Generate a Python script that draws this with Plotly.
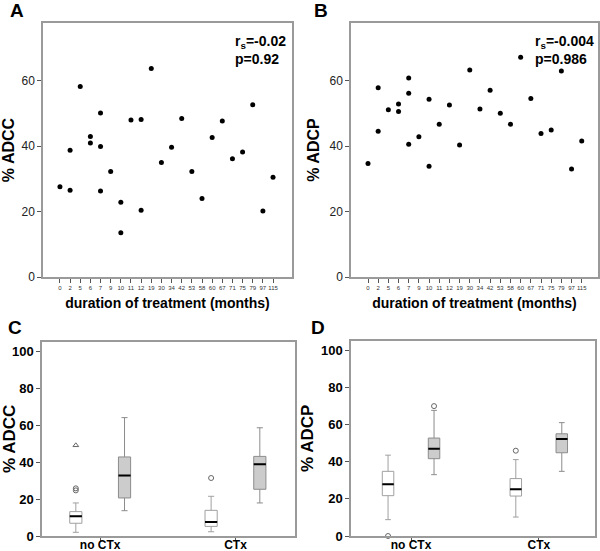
import plotly.graph_objects as go

# ---------------- data ----------------
months = ["0", "2", "5", "6", "7", "9", "10", "11", "12", "19", "30", "34", "42",
          "53", "58", "60", "67", "71", "75", "79", "97", "115"]

adcc_x = ["0", "2", "2", "5", "6", "6", "7", "7", "7", "9", "10", "10", "11", "12", "12",
          "19", "30", "34", "42", "53", "58", "60", "67", "71", "75", "79", "97", "115"]
adcc_y = [27.6, 38.8, 26.5, 58.3, 43.0, 41.0, 50.2, 39.9, 26.3, 32.3, 22.9, 13.5, 48.0, 48.2, 20.4,
          63.8, 35.0, 39.7, 48.5, 32.3, 24.0, 42.7, 47.7, 36.2, 38.2, 52.7, 20.2, 30.5]

adcp_x = ["0", "2", "2", "5", "6", "6", "7", "7", "7", "9", "10", "10", "11", "12",
          "19", "30", "34", "42", "53", "58", "60", "67", "71", "75", "79", "97", "115"]
adcp_y = [34.7, 57.9, 44.6, 51.2, 52.9, 50.6, 60.9, 56.2, 40.6, 42.9, 54.4, 33.9, 46.7, 52.6,
          40.4, 63.3, 51.4, 57.1, 50.1, 46.7, 67.2, 54.6, 43.9, 45.0, 63.0, 33.0, 41.6]

groups = ["no CTx", "CTx"]
box_ticks = [0, 20, 40, 60, 80, 100]
scatter_ticks = [0, 20, 40, 60]

# box statistics: [no CTx, CTx] for white (first) and grey (second) boxes
c_white = dict(lo=[2.0, 2.3], q1=[6.9, 5.2], med=[10.7, 7.6], q3=[13.2, 13.9], hi=[17.9, 21.5])
c_grey = dict(lo=[13.7, 17.9], q1=[20.6, 25.3], med=[32.7, 38.8], q3=[42.8, 43.1], hi=[64.1, 58.6])
c_out_circle_x = [0, 0, 1]
c_out_circle_y = [25.8, 24.7, 31.4]
c_out_tri_x = [0]
c_out_tri_y = [49.1]

d_white = dict(lo=[8.8, 10.2], q1=[21.7, 21.5], med=[27.8, 25.1], q3=[34.8, 30.9], hi=[43.5, 41.1])
d_grey = dict(lo=[33.0, 34.8], q1=[41.6, 44.8], med=[47.0, 52.2], q3=[52.7, 55.0], hi=[67.6, 61.0])
d_out_white_x = [0, 1]
d_out_white_y = [0.0, 45.9]
d_out_grey_x = [0]
d_out_grey_y = [69.9]

# ---------------- styling ----------------
FONT = "Liberation Sans, Arial, Helvetica, sans-serif"
FRAME = "#9a9a9a"
OFF = 0.18
BW = 0.09
W, H = 600, 551


def px_x(a, b):
    return [a / W, b / W]


def px_y(top, bottom):
    return [1 - bottom / H, 1 - top / H]


fig = go.Figure()

# scatter panels
fig.add_trace(go.Scatter(x=adcc_x, y=adcc_y, mode="markers", xaxis="x", yaxis="y",
                         marker=dict(color="black", size=5), showlegend=False))
fig.add_trace(go.Scatter(x=adcp_x, y=adcp_y, mode="markers", xaxis="x2", yaxis="y2",
                         marker=dict(color="black", size=5), showlegend=False))


def add_boxes(stats, offset, fill, line, xa, ya):
    xs = [i + offset for i in range(len(groups))]
    fig.add_trace(go.Box(x=xs, q1=stats["q1"], median=stats["med"], q3=stats["q3"],
                         lowerfence=stats["lo"], upperfence=stats["hi"], width=BW,
                         whiskerwidth=0.5, fillcolor=fill, line=dict(color=line, width=1),
                         boxpoints=False, xaxis=xa, yaxis=ya, showlegend=False, hoverinfo="skip"))
    # black median bar
    fig.add_trace(go.Box(x=xs, q1=stats["med"], median=stats["med"], q3=stats["med"],
                         lowerfence=stats["med"], upperfence=stats["med"], width=BW,
                         whiskerwidth=0, fillcolor="black", line=dict(color="black", width=2),
                         boxpoints=False, xaxis=xa, yaxis=ya, showlegend=False, hoverinfo="skip"))


add_boxes(c_white, -OFF, "white", "#a0a0a0", "x3", "y3")
add_boxes(c_grey, OFF, "#cccccc", "#8c8c8c", "x3", "y3")
add_boxes(d_white, -OFF, "white", "#a0a0a0", "x4", "y4")
add_boxes(d_grey, OFF, "#cccccc", "#8c8c8c", "x4", "y4")

fig.add_trace(go.Scatter(x=[v - OFF for v in c_out_circle_x], y=c_out_circle_y, mode="markers",
                         xaxis="x3", yaxis="y3", showlegend=False,
                         marker=dict(symbol="circle-open", color="#666666", size=5)))
fig.add_trace(go.Scatter(x=[v - OFF for v in c_out_tri_x], y=c_out_tri_y, mode="markers",
                         xaxis="x3", yaxis="y3", showlegend=False,
                         marker=dict(symbol="triangle-up-open", color="#666666", size=5)))
fig.add_trace(go.Scatter(x=[v - OFF for v in d_out_white_x], y=d_out_white_y, mode="markers",
                         xaxis="x4", yaxis="y4", showlegend=False, cliponaxis=False,
                         marker=dict(symbol="circle-open", color="#666666", size=5)))
fig.add_trace(go.Scatter(x=[v + OFF for v in d_out_grey_x], y=d_out_grey_y, mode="markers",
                         xaxis="x4", yaxis="y4", showlegend=False,
                         marker=dict(symbol="circle-open", color="#666666", size=5)))

common_axis = dict(showline=True, linecolor=FRAME, linewidth=1.5, mirror=True, showgrid=False,
                   zeroline=False, ticks="outside", ticklen=4, tickcolor="#555555",
                   automargin=False)

scatter_x = dict(common_axis, type="category", categoryorder="array", categoryarray=months,
                 tickangle=0,
                 tickfont=dict(size=6, family=FONT, color="#333333"),
                 title=dict(text="<b>duration of treatment (months)</b>",
                            font=dict(size=14, family=FONT, color="black"), standoff=8))
scatter_y = dict(common_axis, range=[0, 77.7], tickvals=scatter_ticks,
                 tickfont=dict(size=12, family=FONT, color="#222222"))

box_x = dict(common_axis, tickvals=[0, 1], ticklen=3, ticklabelstandoff=-6,
             ticktext=["<b>" + g + "</b>" for g in groups],
             tickfont=dict(size=12, family=FONT, color="black"))
box_y = dict(common_axis, range=[0, 105.2], tickvals=box_ticks,
             ticktext=[f"<b>{v}</b>" for v in box_ticks],
             tickfont=dict(size=13, family=FONT, color="black"))

fig.update_layout(
    width=W, height=H, margin=dict(l=0, r=0, t=0, b=0, pad=0),
    paper_bgcolor="white", plot_bgcolor="white", showlegend=False,
    font=dict(family=FONT, color="black"),
    xaxis=dict(scatter_x, domain=px_x(43, 292), range=[-1.67, 22.87], anchor="y"),
    yaxis=dict(scatter_y, domain=px_y(23, 277), anchor="x",
               title=dict(text="<b>% ADCC</b>", font=dict(size=16, family=FONT), standoff=6)),
    xaxis2=dict(scatter_x, domain=px_x(351, 598), range=[-1.67, 22.6], anchor="y2"),
    yaxis2=dict(scatter_y, domain=px_y(23, 277), anchor="x2",
                title=dict(text="<b>% ADCP</b>", font=dict(size=16, family=FONT), standoff=6)),
    xaxis3=dict(box_x, domain=px_x(42, 295), range=[-0.43, 1.44], anchor="y3"),
    yaxis3=dict(box_y, domain=px_y(341.7, 536), anchor="x3",
                title=dict(text="<b>% ADCC</b>", font=dict(size=17, family=FONT), standoff=3)),
    xaxis4=dict(box_x, domain=px_x(351, 595), range=[-0.47, 1.44], anchor="y4"),
    yaxis4=dict(box_y, domain=px_y(340.5, 536), anchor="x4",
                title=dict(text="<b>% ADCP</b>", font=dict(size=17, family=FONT), standoff=3)),
    boxmode="overlay",
)

letters = [("A", 8, 11), ("B", 312, 11), ("C", 6, 327), ("D", 309, 327)]
for t, x, y in letters:
    fig.add_annotation(text=f"<b>{t}</b>", x=x / W, y=1 - y / H, xref="paper", yref="paper",
                       xanchor="left", yanchor="middle", showarrow=False,
                       font=dict(size=19, family=FONT, color="black"))

stats_txt = [("r<sub>s</sub>=-0.02", "p=0.92", 233), ("r<sub>s</sub>=-0.004", "p=0.986", 533)]
for r, p, x in stats_txt:
    fig.add_annotation(text=f"<b>{r}</b>", x=x / W, y=1 - 42 / H, xref="paper", yref="paper",
                       xanchor="left", yanchor="middle", showarrow=False,
                       font=dict(size=14, family=FONT, color="black"))
    fig.add_annotation(text=f"<b>{p}</b>", x=x / W, y=1 - 59 / H, xref="paper", yref="paper",
                       xanchor="left", yanchor="middle", showarrow=False,
                       font=dict(size=14, family=FONT, color="black"))

fig.write_html("out.html", config={"displayModeBar": False},
               post_script="document.body.style.margin='0';document.body.style.overflow='hidden';")
